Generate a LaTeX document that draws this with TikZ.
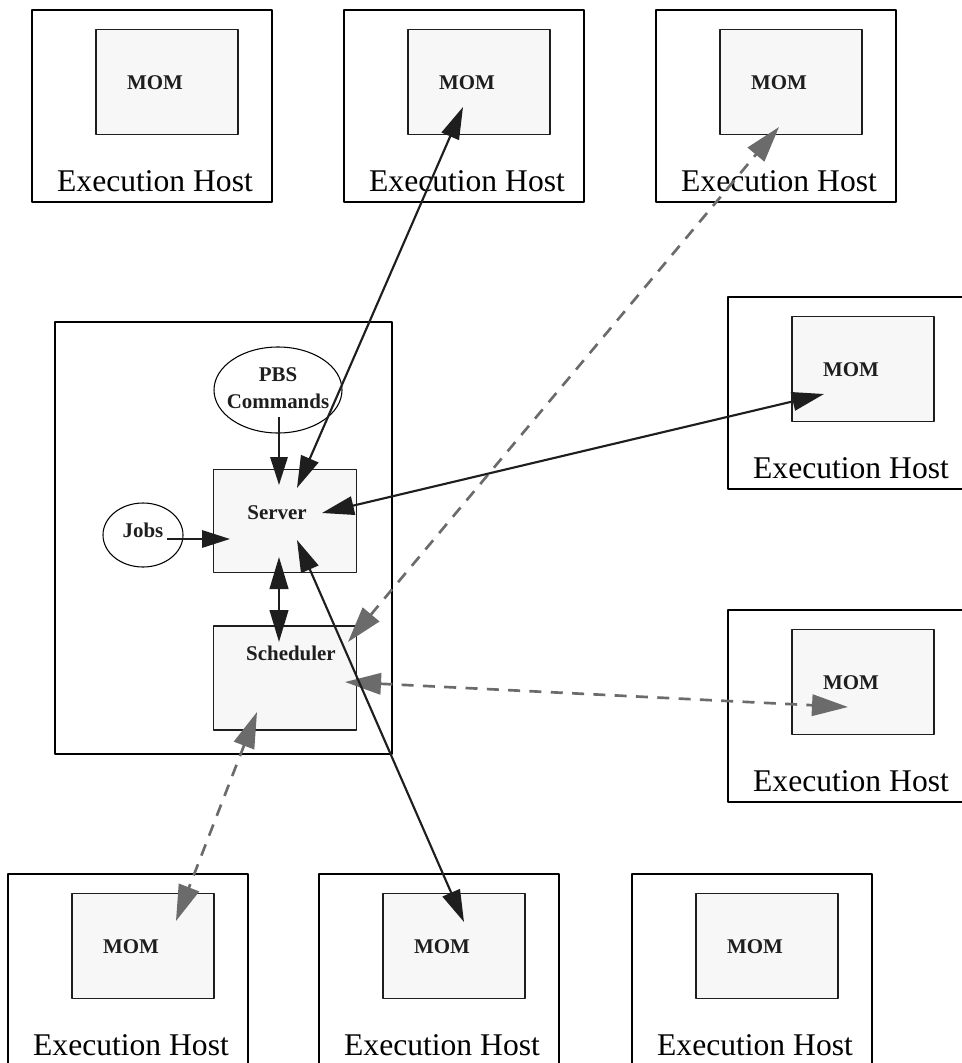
\documentclass[tikz,border=0pt]{standalone}
\usepackage{fontspec}
\setmainfont{Liberation Serif}
\usetikzlibrary{arrows.meta,shapes.geometric,calc}
\definecolor{boxfill}{HTML}{F7F7F7}
\definecolor{ink}{HTML}{1E1E1E}
\definecolor{inkgray}{HTML}{6B6B6B}
\begin{document}
\begin{tikzpicture}[x=0.75pt,y=-0.75pt,line join=round,
	host/.style={draw=black,line width=1.9pt,minimum width=180pt,minimum height=144pt,inner sep=0pt},
	mom/.style={draw=ink,line width=1.4pt,fill=boxfill,minimum width=106.5pt,minimum height=78.75pt,inner sep=0pt},
	proc/.style={draw=ink,line width=1.4pt,fill=boxfill,minimum width=107.25pt,inner sep=0pt},
	blob/.style={ellipse,draw=black,line width=0.8pt,inner sep=0pt,align=center},
	boldlabel/.style={font=\bfseries\fontsize{15.7}{20}\selectfont,text=ink,inner sep=0pt},
	hostlabel/.style={font=\fontsize{23.7}{28}\selectfont,inner sep=0pt},
	link/.style={draw=ink,line width=1.6pt,line cap=round,{Triangle[length=24pt,width=14pt]}-{Triangle[length=24pt,width=14pt]}},
	feed/.style={draw=ink,line width=1.6pt,-{Triangle[length=21pt,width=13pt]}},
	poll/.style={draw=inkgray,line width=2pt,dash pattern=on 9pt off 7pt,{Triangle[length=27pt,width=16pt]}-{Triangle[length=27pt,width=16pt]}}]
	\useasboundingbox (0,0) rectangle (962,1063);
	% execution hosts
	\foreach \n/\x/\y in {1/152/106,2/464/106,3/776/106,4/848/393,5/848/706,6/128/970,7/439/970,8/752/970}{
		\node[host] (h\n) at (\x,\y) {};
		\node[mom] (m\n) at (\x+15,\y-24) {};
		\node[boldlabel] at (\x+3,\y-23) {MOM};
		\node[hostlabel] at (\x+3,\y+75) {Execution Host};
	}
	% server host
	\node[draw=black,line width=1.9pt,minimum width=252.75pt,minimum height=324pt,inner sep=0pt] (main) at (223.5,538) {};
	\node[proc,minimum height=77.25pt] (server) at (285,521) {};
	\node[boldlabel] at (277,513) {Server};
	\node[proc,minimum height=78pt] (sched) at (285,678) {};
	\node[boldlabel] at (291,653) {Scheduler};
	\node[blob,minimum width=96pt,minimum height=64.5pt] (pbs) at (278,390) {};
	\node[boldlabel,align=center] at (278,388) {PBS\\Commands};
	\node[blob,minimum width=60pt,minimum height=48pt] (jobs) at (143,535) {};
	\node[boldlabel] at (143,530) {Jobs};
	% scheduler traffic
	\draw[poll] ($(sched)+(63,-36)$) -- ($(m3)+(-12,45)$);
	\draw[poll] ($(sched)+(60,4)$) -- ($(m5)+(-15,25)$);
	\draw[poll] ($(sched)+(-28,34)$) -- ($(m6)+(33,-25)$);
	% server traffic
	\draw[feed] ($(pbs)+(1,27)$) -- ($(server)+(-6,-36)$);
	\draw[feed] ($(jobs)+(24,4)$) -- ($(server)+(-55,18)$);
	\draw[link] ($(server)+(-6,36)$) -- ($(sched)+(-6,-36)$);
	\draw[link] ($(server)+(12,-33)$) -- ($(m2)+(-16,25)$);
	\draw[link] ($(server)+(37,-8)$) -- ($(m4)+(-39,25)$);
	\draw[link] ($(server)+(12,19)$) -- ($(m7)+(10,-24)$);
\end{tikzpicture}
\end{document}
